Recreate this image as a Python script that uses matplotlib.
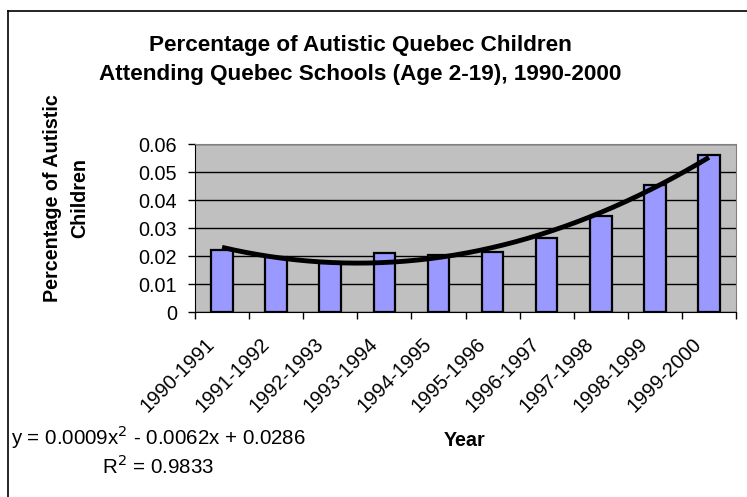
import numpy as np
import matplotlib.pyplot as plt
from matplotlib.lines import Line2D
from matplotlib.transforms import ScaledTranslation, blended_transform_factory

plt.rcParams['font.family'] = ['Liberation Sans', 'DejaVu Sans']

# data
years = ['1990-1991', '1991-1992', '1992-1993', '1993-1994', '1994-1995',
         '1995-1996', '1996-1997', '1997-1998', '1998-1999', '1999-2000']
pct = [0.0220, 0.0195, 0.0174, 0.0212, 0.0203,
       0.0216, 0.0264, 0.0343, 0.0452, 0.0562]
yticks = [0, 0.01, 0.02, 0.03, 0.04, 0.05, 0.06]
ytick_labels = ['0', '0.01', '0.02', '0.03', '0.04', '0.05', '0.06']
eq_text = 'y = 0.0009x$^2$ - 0.0062x + 0.0286'
r2_text = 'R$^2$ = 0.9833'

W, H = 747, 497
fig = plt.figure(figsize=(W / 100, H / 100), dpi=100)
fig.patch.set_facecolor('white')

# outer chart border (only left and top are visible in the picture)
fig.add_artist(Line2D([8 / W, 8 / W], [0, 1 - 11 / H], color='black', lw=1.2))
fig.add_artist(Line2D([8 / W, 1], [1 - 11 / H, 1 - 11 / H], color='black', lw=1.2))

ax = fig.add_axes([195 / W, 1 - 312 / H, (736 - 195) / W, (312 - 144) / H])
ax.set_facecolor('#C0C0C0')

x = np.arange(1, len(years) + 1)
ax.bar(x, pct, width=0.4, color='#9999FF', edgecolor='black', linewidth=1.6, zorder=3)

# 2nd order polynomial trend line
coef = np.polyfit(x, pct, 2)
xs = np.linspace(1, len(years), 200)
ax.plot(xs, np.polyval(coef, xs), color='black', lw=3.5, zorder=4,
        solid_capstyle='butt')

ax.set_xlim(0.5, len(years) + 0.5)
ax.set_ylim(0, 0.06)
ax.set_yticks(yticks)
ax.set_yticklabels(ytick_labels, fontsize=14.3)
ax.yaxis.grid(True, color='black', lw=1)
ax.set_axisbelow(True)

# category labels, rotated 45 deg and anchored a little left of each category centre
ax.set_xticks(np.arange(0.5, len(years) + 1))
ax.set_xticklabels([])
ax.tick_params(axis='x', length=5, width=1, direction='out')
ax.tick_params(axis='y', length=5, width=1, direction='out', pad=8)
trans = blended_transform_factory(ax.transData, ax.transAxes) + \
    ScaledTranslation(-0.10, -0.29, fig.dpi_scale_trans)
for xi, lab in zip(x, years):
    ax.text(xi, 0, lab, transform=trans, rotation=45, rotation_mode='anchor',
            ha='right', va='center', fontsize=14.5, clip_on=False)

for s in ['top', 'right']:
    ax.spines[s].set_color('#808080')
for s in ['left', 'bottom']:
    ax.spines[s].set_color('black')

fig.text(360 / W, 1 - 60 / H,
         'Percentage of Autistic Quebec Children\nAttending Quebec Schools (Age 2-19), 1990-2000',
         ha='center', va='center', fontsize=16.2, fontweight='bold', linespacing=1.45)
fig.text(66 / W, 1 - 198 / H, 'Percentage of Autistic\nChildren', rotation=90,
         ha='center', va='center', fontsize=14.2, fontweight='bold', linespacing=1.5)
fig.text(465 / W, 1 - 441 / H, 'Year', ha='center', va='center',
         fontsize=14.2, fontweight='bold')
fig.text(158 / W, 1 - 437 / H, eq_text, ha='center', va='center', fontsize=14.8)
fig.text(158 / W, 1 - 466 / H, r2_text, ha='center', va='center', fontsize=14.8)

fig.savefig('out.png', dpi=100)
